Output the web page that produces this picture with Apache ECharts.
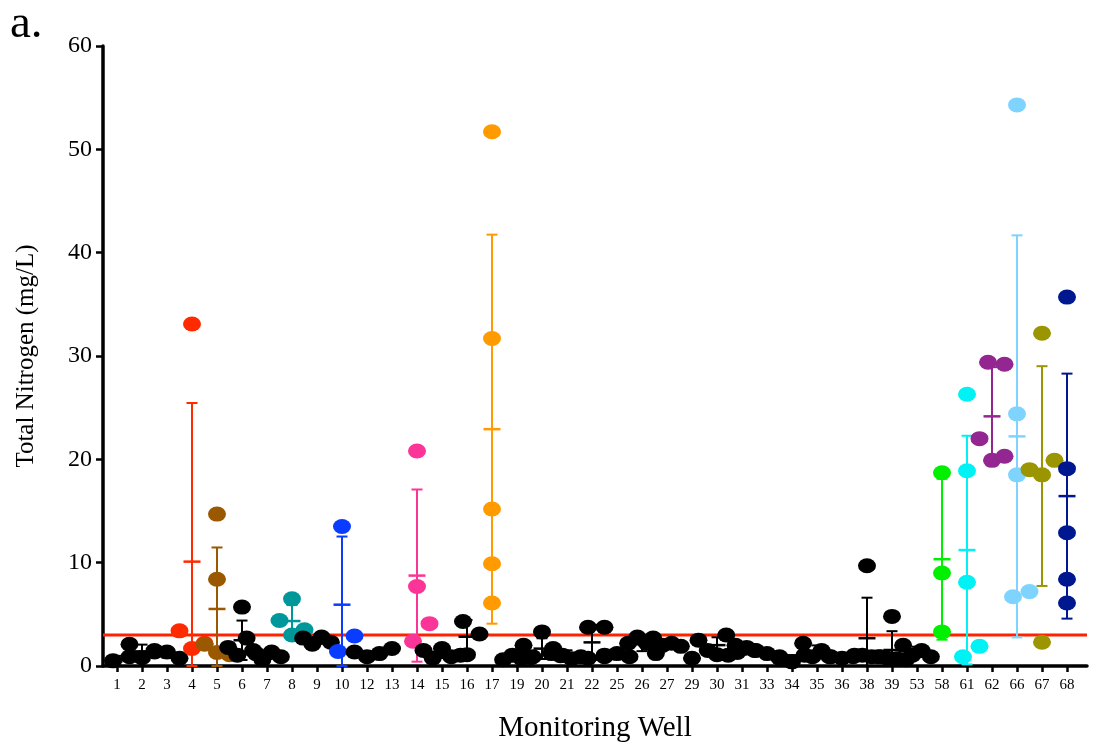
<!DOCTYPE html>
<html>
<head>
<meta charset="utf-8">
<script src="https://cdn.jsdelivr.net/npm/echarts@6/dist/echarts.min.js"></script>
<style>
  html, body { margin: 0; padding: 0; background: #ffffff; }
  #chart { width: 1105px; height: 748px; }
</style>
</head>
<body>
<div id="chart"></div>
<script>
// Monitoring wells along the x axis
const wells = ['1','2','3','4','5','6','7','8','9','10','12','13','14','15','16','17','19','20','21','22',
               '25','26','27','29','30','31','33','34','35','36','38','39','53','58','61','62','66','67','68'];

// Total nitrogen samples per well (mg/L), listed left to right within each row of dots
const nitrogen = [
  [0.5, 0.9],
  [2.1, 0.8, 1.35],
  [1.5, 1.35, 0.75],
  [33.1, 3.4, 1.7, 2.2],
  [14.7, 8.4, 2.1, 1.3, 1.1],
  [5.7, 1.8, 1.05, 2.7, 1.2],
  [1.5, 0.6, 1.35, 0.9],
  [6.5, 4.4, 3.0, 3.5],
  [2.7, 2.1, 2.8, 2.3],
  [13.5, 1.4, 2.9],
  [1.35, 0.9, 1.2],
  [1.7],
  [20.8, 7.7, 2.4, 4.1],
  [1.5, 0.75, 1.7, 0.9, 1.05],
  [4.3, 3.1, 1.1],
  [51.7, 31.7, 15.2, 9.9, 6.1],
  [0.6, 1.05, 0.7, 0.8],
  [2.0, 0.9, 3.3, 1.2, 1.0],
  [1.7, 1.05, 0.7, 0.9],
  [3.75, 0.75, 3.75, 0.9],
  [1.05, 1.2, 0.9],
  [2.2, 2.8, 2.2, 1.2],
  [2.7, 2.0, 2.2, 1.9],
  [0.75],
  [2.5, 1.5, 1.1, 3.0, 2.0],
  [1.05, 1.3, 1.8, 1.5],
  [1.5, 1.2, 0.9],
  [0.75, 0.4, 1.05],
  [2.2, 0.9, 1.5, 0.9],
  [0.9, 0.75, 1.05],
  [9.7, 0.9, 1.05, 0.9, 0.9],
  [4.8, 0.9, 0.75, 0.7, 0.6],
  [2.0, 1.05, 1.5, 0.9],
  [18.7, 9.0, 3.3],
  [26.3, 18.9, 8.1, 0.9, 1.9],
  [29.4, 29.2, 22.0, 19.9, 20.3],
  [54.3, 24.4, 18.5, 6.7, 7.2],
  [32.2, 19.0, 18.5, 19.9, 2.3],
  [35.7, 19.1, 12.9, 8.4, 6.1]
];

// Guideline level (mg/L)
const threshold = 3;

// Y axis range
const yMin = 0, yMax = 60, yStep = 10;

// Highlighted wells; all others are drawn in black
const wellColors = {
  '4': '#ff2a00', '5': '#9a5800', '8': '#00979a', '10': '#0a3cff', '14': '#fb3598',
  '17': '#ff9a00', '58': '#00f000', '61': '#00f2f5', '62': '#932691', '66': '#7fd4ff',
  '67': '#9a9500', '68': '#00188f'
};
const colorOf = w => wellColors[w] || '#000000';

// Points whose values are close are laid out side by side in a row
const GROUP_GAP = 1.9;
function spreadOffsets(vals) {
  const order = vals.map((v, i) => i).sort((a, b) => vals[a] - vals[b]);
  const groups = [];
  let cur = [order[0]];
  for (let k = 1; k < order.length; k++) {
    if (vals[order[k]] - vals[order[k - 1]] < GROUP_GAP) cur.push(order[k]);
    else { groups.push(cur); cur = [order[k]]; }
  }
  groups.push(cur);
  const off = new Array(vals.length).fill(0);
  groups.forEach(g => {
    g.sort((a, b) => a - b);
    const n = g.length;
    if (n === 1) return;
    if (n === 2) { off[g[0]] = -0.16; off[g[1]] = 0.5; return; }
    const step = n === 3 ? 0.5 : 0.37;
    g.forEach((p, j) => { off[p] = (j - (n - 1) / 2) * step; });
  });
  return off;
}

// Mean ± SD for each well
function stats(vals) {
  const n = vals.length;
  const mean = vals.reduce((s, v) => s + v, 0) / n;
  const sd = n > 1 ? Math.sqrt(vals.reduce((s, v) => s + (v - mean) ** 2, 0) / (n - 1)) : 0;
  return { mean, lo: Math.max(yMin, mean - sd), hi: mean + sd };
}

const pointData = [];
const barData = [];
wells.forEach((w, i) => {
  const vals = nitrogen[i];
  const off = spreadOffsets(vals);
  const col = colorOf(w);
  vals.forEach((v, j) => pointData.push({ value: [i + off[j], v], itemStyle: { color: col } }));
  const s = stats(vals);
  barData.push([i, s.mean, s.lo, s.hi]);
});

const xMin = -0.56, xMax = 38.8;
const serif = '"Liberation Serif", "Times New Roman", serif';
const ellipse = 'path://M0,10A10,10,0,1,1,20,10A10,10,0,1,1,0,10Z';

const chart = echarts.init(document.getElementById('chart'), null, { renderer: 'canvas' });
chart.setOption({
  animation: false,
  backgroundColor: '#ffffff',
  grid: { left: 103, right: 18, top: 46, bottom: 77, containLabel: false },
  graphic: [{
    type: 'text', left: 10, top: 1,
    style: { text: 'a.', font: '47px ' + serif, fill: '#000' }
  }],
  xAxis: {
    type: 'value', min: xMin, max: xMax,
    name: 'Monitoring Well', nameLocation: 'middle', nameGap: 48,
    nameTextStyle: { fontFamily: serif, fontSize: 29, color: '#000' },
    axisLine: { onZero: false, lineStyle: { color: '#000', width: 3.5 } },
    axisTick: { show: true, length: 6, customValues: wells.map((w, i) => i), lineStyle: { color: '#000', width: 2.5 } },
    axisLabel: {
      customValues: wells.map((w, i) => i), margin: 12,
      formatter: v => wells[Math.round(v)],
      fontFamily: serif, fontSize: 15, color: '#000'
    },
    splitLine: { show: false }
  },
  yAxis: {
    type: 'value', min: yMin, max: yMax, interval: yStep,
    name: 'Total Nitrogen (mg/L)', nameLocation: 'middle', nameGap: 64,
    nameTextStyle: { fontFamily: serif, fontSize: 25, color: '#000' },
    axisLine: { show: true, onZero: false, lineStyle: { color: '#000', width: 3.5 } },
    axisTick: { show: true, length: 7, lineStyle: { color: '#000', width: 2.5 } },
    axisLabel: { fontFamily: serif, fontSize: 24, color: '#000', margin: 11 },
    splitLine: { show: false }
  },
  series: [
    {
      name: 'Guideline', type: 'line', z: 1, silent: true, symbol: 'none',
      data: [[xMin, threshold], [xMax, threshold]],
      lineStyle: { color: '#ff2200', width: 3 }
    },
    {
      name: 'Mean ± SD', type: 'custom', z: 2, silent: true,
      encode: { x: 0, y: [1, 2, 3] },
      data: barData,
      renderItem: (params, api) => {
        const x = api.value(0);
        const c = api.coord([x, api.value(1)]);
        const pLo = api.coord([x, api.value(2)]);
        const pHi = api.coord([x, api.value(3)]);
        const col = colorOf(wells[params.dataIndex]);
        const st = { stroke: col, lineWidth: 2 };
        return {
          type: 'group',
          children: [
            { type: 'line', shape: { x1: c[0], y1: pHi[1], x2: c[0], y2: pLo[1] }, style: st },
            { type: 'line', shape: { x1: c[0] - 5.5, y1: pHi[1], x2: c[0] + 5.5, y2: pHi[1] }, style: st },
            { type: 'line', shape: { x1: c[0] - 5.5, y1: pLo[1], x2: c[0] + 5.5, y2: pLo[1] }, style: st },
            { type: 'line', shape: { x1: c[0] - 8.5, y1: c[1], x2: c[0] + 8.5, y2: c[1] }, style: { stroke: col, lineWidth: 2.5 } }
          ]
        };
      }
    },
    {
      name: 'Total Nitrogen', type: 'scatter', z: 3, silent: true,
      symbol: ellipse, symbolSize: [18, 15], symbolKeepAspect: false,
      itemStyle: { opacity: 1 },
      data: pointData
    }
  ]
});
</script>
</body>
</html>
